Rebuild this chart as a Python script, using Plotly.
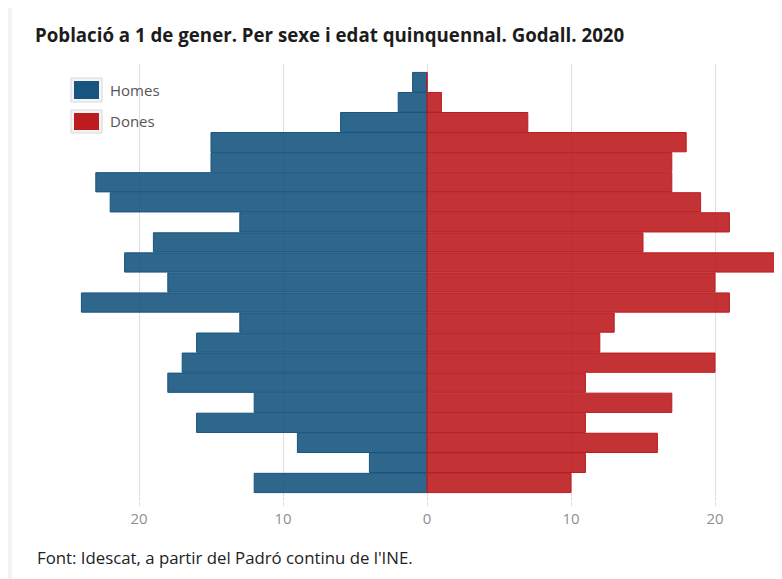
import plotly.graph_objects as go

# Age groups, bottom (youngest) to top (oldest)
age_groups = ["0-4", "5-9", "10-14", "15-19", "20-24", "25-29", "30-34", "35-39",
              "40-44", "45-49", "50-54", "55-59", "60-64", "65-69", "70-74", "75-79",
              "80-84", "85-89", "90-94", "95-99", "100 i més"]
# values listed bottom -> top
homes = [12, 4, 9, 16, 12, 18, 17, 16, 13, 24, 18, 21, 19, 13, 22, 23, 15, 15, 6, 2, 1]
dones = [10, 11, 16, 11, 17, 11, 20, 12, 13, 21, 20, 25, 15, 21, 19, 17, 17, 18, 7, 1, 0]

tick_vals = [-20, -10, 0, 10, 20]
tick_text = ["20", "10", "0", "10", "20"]

# page body has an 8px margin, so the figure is drawn 8px in from the corner
W, H = 774, 571
L, R, T, B = 59, 0, 56, 78
ZERO = 419
PPU = 14.4

fig = go.Figure()
fig.add_trace(go.Bar(
    y=age_groups, x=[-v for v in homes], orientation="h", name="Homes",
    marker=dict(color="rgba(23,85,128,0.9)", line=dict(color="rgb(23,85,128)", width=1)),
    customdata=homes, hovertemplate="%{y}: %{customdata}<extra>Homes</extra>",
))
fig.add_trace(go.Bar(
    y=age_groups, x=dones, orientation="h", name="Dones",
    marker=dict(color="rgba(188,28,31,0.9)", line=dict(color="rgb(188,28,31)", width=1)),
    hovertemplate="%{y}: %{x}<extra>Dones</extra>",
))

fig.update_layout(
    width=W, height=H,
    margin=dict(l=L, r=R, t=T, b=B),
    barmode="overlay", bargap=0.04,
    paper_bgcolor="white", plot_bgcolor="white",
    showlegend=False,
    font=dict(family="Open Sans", color="#555"),
    xaxis=dict(
        range=[-(ZERO - L) / PPU, (W - ZERO) / PPU], tickvals=tick_vals, ticktext=tick_text,
        showgrid=True, gridcolor="#dedede", gridwidth=1, zeroline=False,
        ticks="outside", ticklen=4, tickcolor="#dddddd",
        tickfont=dict(size=15, color="#8f8f8f", family="Open Sans"),
        showline=False, fixedrange=True,
    ),
    yaxis=dict(
        type="category", range=[-0.9, 20.9], showticklabels=False,
        showgrid=False, zeroline=False, showline=False, ticks="", fixedrange=True,
    ),
    title=dict(
        text="<b>Població a 1 de gener. Per sexe i edat quinquennal. Godall. 2020</b>",
        x=27 / W, xanchor="left", y=1 - 27 / H, yanchor="middle",
        font=dict(family="Open Sans", size=18.7, color="#1c1c1c"),
    ),
)


def px_x(px):
    return (px - L) / (W - L - R)


def px_y(py):
    return 1 - (py - T) / (H - T - B)


shapes = [
    # left page strip
    dict(type="rect", xref="paper", yref="paper", x0=px_x(0), x1=px_x(4),
         y0=px_y(H), y1=px_y(0), fillcolor="#f3f3f3", line=dict(width=0), layer="below"),
]

legend_items = [("Homes", "rgb(23,85,128)", 70, 94), ("Dones", "rgb(188,28,31)", 102, 125)]
for name, col, y0, y1 in legend_items:
    shapes.append(dict(type="rect", xref="paper", yref="paper",
                       x0=px_x(63), x1=px_x(94), y0=px_y(y1), y1=px_y(y0),
                       fillcolor="#f4f4f4", line=dict(color="#d8d8d8", width=1)))
    shapes.append(dict(type="rect", xref="paper", yref="paper",
                       x0=px_x(66), x1=px_x(91), y0=px_y(y1 - 3), y1=px_y(y0 + 3),
                       fillcolor=col, line=dict(width=0)))
    fig.add_annotation(xref="paper", yref="paper", x=px_x(100), y=px_y((y0 + y1) / 2),
                       text=name, showarrow=False, xanchor="left", yanchor="middle",
                       font=dict(family="Open Sans", size=15, color="#555"))

fig.update_layout(shapes=shapes)

fig.add_annotation(xref="paper", yref="paper", x=px_x(27), y=px_y(549),
                   text="Font: Idescat, a partir del Padró continu de l'INE.",
                   showarrow=False, xanchor="left", yanchor="middle",
                   font=dict(family="Open Sans", size=16.8, color="#222"))

fig.write_html("out.html")
